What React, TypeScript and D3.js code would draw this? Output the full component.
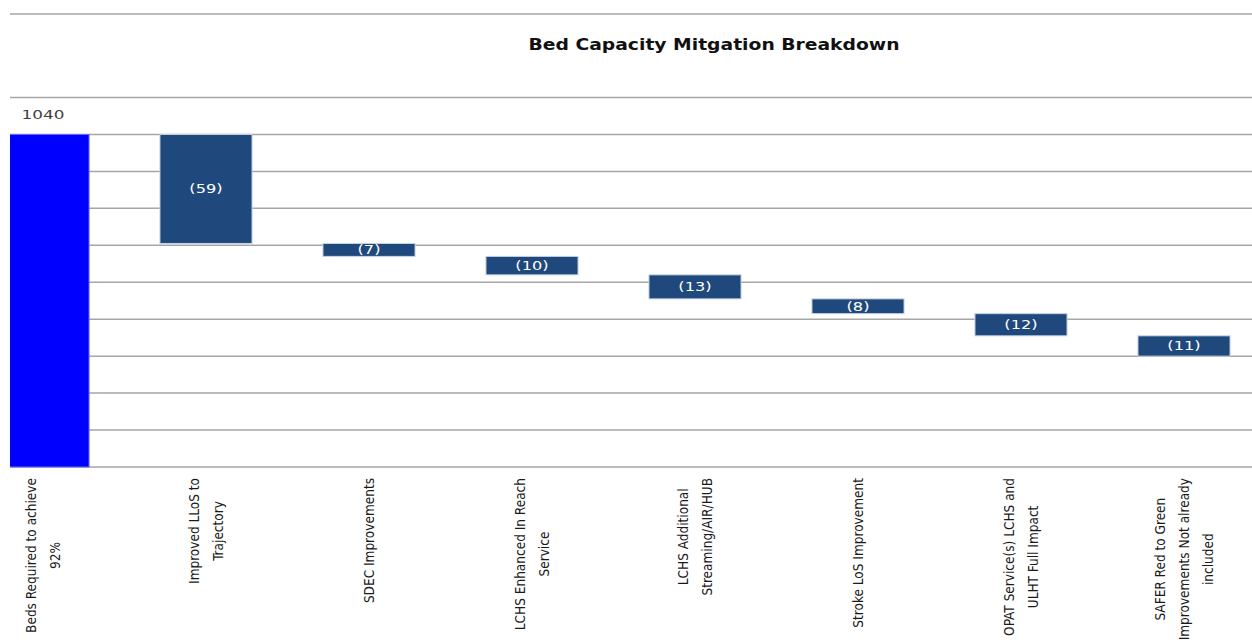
import React, { useEffect, useRef } from 'react';
import * as d3 from 'd3';

// category labels, one entry per wrapped line
const categoryLines: string[][] = [
  ['Beds Required to achieve', '92%'],
  ['Improved LLoS to', 'Trajectory'],
  ['SDEC Improvements'],
  ['LCHS Enhanced In Reach', 'Service'],
  ['LCHS Additional', 'Streaming/AIR/HUB'],
  ['Stroke LoS Improvement'],
  ['OPAT Service(s) LCHS and', 'ULHT Full Impact'],
  ['SAFER Red to Green', 'Improvements Not already', 'included'],
];
const startValue = 1040;
const reductions = [59, 7, 10, 13, 8, 12, 11];
const yTicks = d3.range(860, 1061, 20);

const W = 1252;
const H = 642;

const App: React.FC = () => {
  const ref = useRef<SVGSVGElement | null>(null);

  useEffect(() => {
    document.body.style.margin = '0';
    if (!ref.current) return;
    const svg = d3.select(ref.current);
    svg.selectAll('*').remove();

    const names = categoryLines.map((l) => l.join(' '));
    const x = d3.scaleBand<string>().domain(names).range([-38.5, 1265.5]).paddingInner(0.435).paddingOuter(0.2175);
    const y = d3.scaleLinear().domain([860, 1060]).range([467, 97.5]);

    // waterfall steps
    let running = startValue;
    const bars = [{ name: names[0], top: startValue, bottom: 860, total: true, value: startValue }];
    reductions.forEach((v, i) => {
      bars.push({ name: names[i + 1], top: running, bottom: running - v, total: false, value: v });
      running -= v;
    });

    // stretch helper (source picture is widened horizontally)
    const stretch = (sel: d3.Selection<SVGTextElement, any, any, any>, k: number) => {
      sel.each(function () {
        const len = this.getComputedTextLength();
        d3.select(this).attr('textLength', len * k).attr('lengthAdjust', 'spacingAndGlyphs');
      });
    };

    svg.append('defs').append('clipPath').attr('id', 'plotClip')
      .append('rect').attr('x', 10).attr('y', 0).attr('width', W - 10).attr('height', H);

    const plot = svg.append('g').attr('clip-path', 'url(#plotClip)');

    plot.append('line').attr('x1', 10).attr('x2', W).attr('y1', 14).attr('y2', 14)
      .attr('stroke', '#a6a6a6').attr('stroke-width', 1.5);

    plot.append('g').selectAll('line').data(yTicks).join('line')
      .attr('x1', 10).attr('x2', W)
      .attr('y1', (d) => y(d)).attr('y2', (d) => y(d))
      .attr('stroke', '#a6a6a6').attr('stroke-width', 1.5);

    plot.append('g').selectAll('rect').data(bars).join('rect')
      .attr('x', (d) => x(d.name)!)
      .attr('width', x.bandwidth())
      .attr('y', (d) => y(d.top))
      .attr('height', (d) => y(d.bottom) - y(d.top))
      .attr('fill', (d) => (d.total ? '#0000ff' : '#1f497d'))
      .attr('stroke', (d) => (d.total ? '#6b6bff' : '#c9d4e4'))
      .attr('stroke-width', 1);

    const valueLabels = plot.append('g').selectAll('text').data(bars.filter((d) => !d.total)).join('text')
      .attr('x', (d) => x(d.name)! + x.bandwidth() / 2)
      .attr('y', (d) => (y(d.top) + y(d.bottom)) / 2)
      .attr('dy', '0.36em')
      .attr('text-anchor', 'middle')
      .attr('fill', '#ffffff')
      .attr('font-family', 'DejaVu Sans, Verdana, sans-serif')
      .attr('font-size', 12)
      .text((d) => `(${d.value})`);
    stretch(valueLabels as any, 1.35);

    const totalLabel = plot.append('text')
      .attr('x', x(names[0])! + x.bandwidth() / 2)
      .attr('y', y(startValue) - 20)
      .attr('dy', '0.36em')
      .attr('text-anchor', 'middle')
      .attr('fill', '#404040')
      .attr('font-family', 'DejaVu Sans, Verdana, sans-serif')
      .attr('font-size', 12)
      .text(String(startValue));
    stretch(totalLabel as any, 1.4);

    svg.append('text')
      .attr('x', 714).attr('y', 45).attr('dy', '0.36em')
      .attr('text-anchor', 'middle')
      .attr('font-family', 'DejaVu Sans, Verdana, sans-serif')
      .attr('font-weight', 'bold')
      .attr('font-size', 15)
      .attr('fill', '#111111')
      .attr('textLength', 371)
      .attr('lengthAdjust', 'spacingAndGlyphs')
      .text('Bed Capacity Mitgation Breakdown');

    // rotated category labels, lines centred on the longest one
    const lineGap = 24;
    const labelTop = 478;
    categoryLines.forEach((lines, i) => {
      const cx = x(names[i])! + x.bandwidth() / 2;
      const g = svg.append('g').attr('transform', 'rotate(-90)');
      const texts = g.selectAll('text').data(lines).join('text')
        .attr('y', (_, j) => cx + (j - (lines.length - 1) / 2) * lineGap)
        .attr('dy', '0.36em')
        .attr('text-anchor', 'middle')
        .attr('font-family', '"Liberation Sans Narrow", "DejaVu Sans Condensed", sans-serif')
        .attr('font-size', 13.5)
        .attr('fill', '#1a1a1a')
        .text((d) => d);
      let maxLen = 0;
      texts.each(function () {
        maxLen = Math.max(maxLen, (this as SVGTextElement).getComputedTextLength());
      });
      texts.attr('x', -(labelTop + maxLen / 2));
    });
  }, []);

  return <svg ref={ref} width={W} height={H} style={{ display: 'block', background: '#ffffff' }} />;
};

export default App;
